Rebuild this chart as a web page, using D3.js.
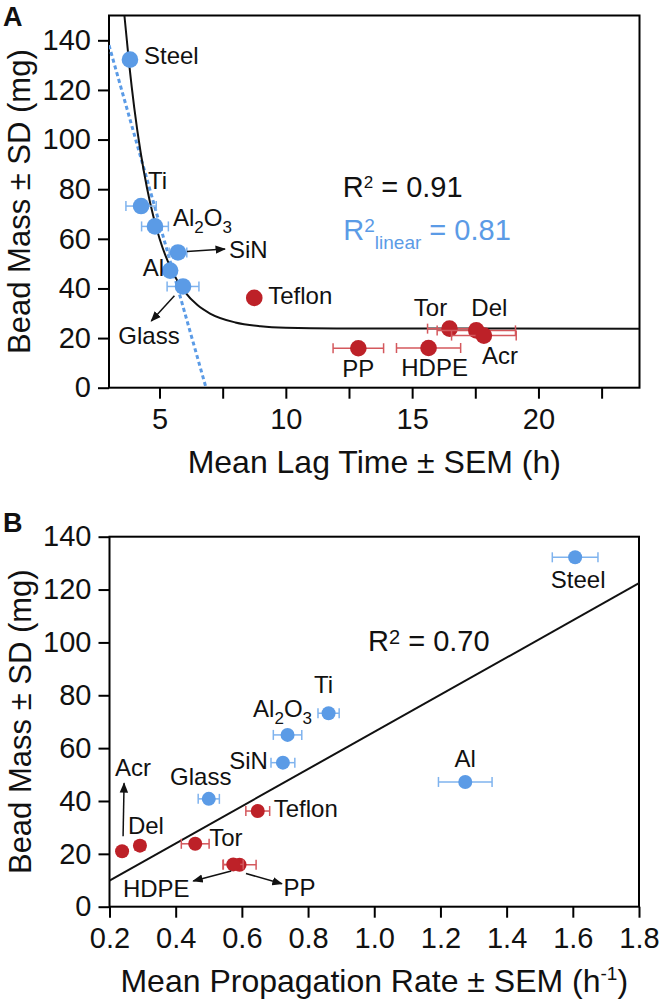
<!DOCTYPE html>
<html lang="en">
<head>
<meta charset="UTF-8">
<title>Bead mass vs lag time and propagation rate</title>
<script src="https://cdn.jsdelivr.net/npm/d3@7"></script>
<style>
    body { margin: 0; background: #fff; }
    svg text { font-family: "Liberation Sans", Arial, Helvetica, sans-serif; fill: #111; }
    .axis path { display: none; }
    .axis line { stroke: #000; stroke-width: 2; }
    .axis text { font-size: 29px; fill: #111; }
    .frame { fill: none; stroke: #000; stroke-width: 2; }
    .title { font-size: 32px; }
    .ytitle { font-size: 31px; }
    .lbl { font-size: 24px; }
    .arrow { stroke: #111; stroke-width: 1.5; fill: none; }
</style>
</head>
<body>
<svg id="fig" width="664" height="1002"></svg>
<script>
// ---- data ----
var materials = ["Steel", "Ti", "Al2O3", "SiN", "Al", "Glass", "Teflon", "PP", "HDPE", "Tor", "Del", "Acr"];
var group     = ["hard", "hard", "hard", "hard", "hard", "hard", "poly", "poly", "poly", "poly", "poly", "poly"];
var beadMass  = [132.2, 73.2, 65.0, 54.5, 47.2, 40.8, 36.2, 15.9, 16.0, 23.8, 23.1, 21.0];

// panel A: mean lag time (h) and SEM
var lagTime = [3.83, 4.27, 4.82, 5.73, 5.42, 5.93, 8.75, 12.87, 15.65, 16.48, 17.54, 17.84];
var lagSem  = [0.15, 0.60, 0.53, 0.35, 0.15, 0.63, 0.15, 1.00, 1.27, 0.87, 1.55, 1.28];

// panel B: mean propagation rate (1/h) and SEM
var propRate = [1.607, 0.862, 0.738, 0.724, 1.275, 0.500, 0.648, 0.593, 0.574, 0.459, 0.292, 0.238];
var propSem  = [0.069, 0.032, 0.043, 0.036, 0.081, 0.032, 0.036, 0.050, 0.030, 0.042, 0.015, 0.010];

// fitted curves as drawn in the figure
var expFitLag  = [3.61, 3.8, 4.0, 4.25, 4.5, 4.75, 5.0, 5.5, 6.0, 6.5, 7.0, 8.0, 9.0, 10, 12, 24];
var expFitMass = [150, 130.3, 112.8, 95.0, 80.7, 69.3, 60.1, 47.0, 38.6, 33.3, 29.9, 26.3, 24.8, 24.2, 23.9, 23.8];
var linFitLag  = [3.0, 6.84];
var linFitMass = [138, 0];
var rateFitX   = [0.2, 1.8];
var rateFitY   = [9.9, 122.4];

var lagTicks  = [5, 7.5, 10, 12.5, 15, 17.5, 20, 22.5];
var rateTicks = [0.2, 0.4, 0.6, 0.8, 1.0, 1.2, 1.4, 1.6, 1.8];
var massTicks = [0, 20, 40, 60, 80, 100, 120, 140];

var r2A = "0.91", r2Lin = "0.81", r2B = "0.70";

// ---- styling ----
var dotColor = {hard: "#5b9be6", poly: "#bd2128"};
var barColor = {hard: "#7fb3ee", poly: "#d4585d"};

var pts = materials.map(function (m, i) {
    return {name: m, grp: group[i], mass: beadMass[i], lag: lagTime[i], lagE: lagSem[i], rate: propRate[i], rateE: propSem[i]};
});

var svg = d3.select("#fig");

svg.append("defs").append("marker")
    .attr("id", "head")
    .attr("viewBox", "0 0 10 10")
    .attr("refX", 9).attr("refY", 5)
    .attr("markerWidth", 7).attr("markerHeight", 7)
    .attr("markerUnits", "strokeWidth")
    .attr("orient", "auto")
    .append("path").attr("d", "M0,1 L10,5 L0,9 z").attr("fill", "#111");

function labelText(sel, name) {
    if (name === "Al2O3") {
        sel.append("tspan").text("Al");
        sel.append("tspan").attr("dy", 7).style("font-size", "17px").text("2");
        sel.append("tspan").attr("dy", -7).text("O");
        sel.append("tspan").attr("dy", 7).style("font-size", "17px").text("3");
    } else {
        sel.text(name);
    }
}

function drawPanel(p) {
    var x = p.x, y = p.y, g = svg.append("g");

    g.append("g").attr("class", "axis")
        .attr("transform", "translate(0," + p.bottom + ")")
        .call(d3.axisBottom(x).tickValues(p.xTicks).tickSize(11).tickPadding(10).tickFormat(p.xFmt));
    g.append("g").attr("class", "axis")
        .attr("transform", "translate(" + p.left + ",0)")
        .call(d3.axisLeft(y).tickValues(massTicks).tickSize(11).tickPadding(7));

    g.append("rect").attr("class", "frame")
        .attr("x", p.left).attr("y", p.top)
        .attr("width", p.right - p.left).attr("height", p.bottom - p.top);

    var clip = "clip" + p.id;
    g.append("clipPath").attr("id", clip).append("rect")
        .attr("x", p.left).attr("y", p.top)
        .attr("width", p.right - p.left).attr("height", p.bottom - p.top);

    var plot = g.append("g").attr("clip-path", "url(#" + clip + ")");
    p.lines(plot);

    var pt = g.selectAll(".pt" + p.id).data(pts).enter().append("g");
    pt.append("line")
        .attr("x1", function (d) { return x(p.vx(d) - p.ve(d)); })
        .attr("x2", function (d) { return x(p.vx(d) + p.ve(d)); })
        .attr("y1", function (d) { return y(d.mass); })
        .attr("y2", function (d) { return y(d.mass); })
        .attr("stroke", function (d) { return barColor[d.grp]; }).attr("stroke-width", 1.5);
    [-1, 1].forEach(function (s) {
        pt.append("line")
            .attr("x1", function (d) { return x(p.vx(d) + s * p.ve(d)); })
            .attr("x2", function (d) { return x(p.vx(d) + s * p.ve(d)); })
            .attr("y1", function (d) { return y(d.mass) - 5; })
            .attr("y2", function (d) { return y(d.mass) + 5; })
            .attr("stroke", function (d) { return barColor[d.grp]; }).attr("stroke-width", 1.5);
    });
    pt.append("circle")
        .attr("cx", function (d) { return x(p.vx(d)); })
        .attr("cy", function (d) { return y(d.mass); })
        .attr("r", p.r)
        .attr("fill", function (d) { return dotColor[d.grp]; });

    // labels placed relative to their point
    pts.forEach(function (d) {
        var L = p.labels[d.name];
        var t = g.append("text").attr("class", "lbl")
            .attr("x", x(p.vx(d)) + L[0]).attr("y", y(d.mass) + L[1])
            .attr("text-anchor", L[2]);
        labelText(t, d.name);
        var a = p.arrows[d.name];
        if (a) {
            g.append("line").attr("class", "arrow")
                .attr("x1", x(p.vx(d)) + a[0]).attr("y1", y(d.mass) + a[1])
                .attr("x2", x(p.vx(d)) + a[2]).attr("y2", y(d.mass) + a[3])
                .attr("marker-end", "url(#head)");
        }
    });

    g.append("text").attr("class", "ytitle")
        .attr("transform", "translate(" + p.yTitleX + "," + (p.top + p.bottom) / 2 + ") rotate(-90)")
        .attr("text-anchor", "middle")
        .text("Bead Mass \u00b1 SD (mg)");

    var xt = g.append("text").attr("class", "title")
        .attr("x", (p.left + p.right) / 2).attr("y", p.bottom + 85)
        .attr("text-anchor", "middle");
    xt.append("tspan").text(p.xTitle);
    if (p.xTitleSup) {
        xt.append("tspan").attr("dy", -12).style("font-size", "19px").text(p.xTitleSup);
        xt.append("tspan").attr("dy", 12).text(")");
    }

    g.append("text").attr("x", 3).attr("y", p.top - (p.id === "A" ? -10 : 5))
        .style("font-size", "27px").style("font-weight", "bold").text(p.id);
    return g;
}

// ---- panel A ----
var xA = d3.scaleLinear().domain([3, 24]).range([109, 639.5]);
var yA = d3.scaleLinear().domain([0, 150]).range([387.7, 15.5]);

var gA = drawPanel({
    id: "A", x: xA, y: yA, left: 109, right: 639.5, top: 15.5, bottom: 387.7, r: 8.3,
    xTicks: lagTicks, xFmt: function (d) { return d % 5 === 0 ? d : ""; },
    vx: function (d) { return d.lag; }, ve: function (d) { return d.lagE; },
    yTitleX: 30, xTitle: "Mean Lag Time \u00b1 SEM (h)",
    lines: function (plot) {
        plot.append("path")
            .datum(linFitLag.map(function (v, i) { return [v, linFitMass[i]]; }))
            .attr("d", d3.line().x(function (d) { return xA(d[0]); }).y(function (d) { return yA(d[1]); }))
            .attr("fill", "none").attr("stroke", "#5b9be6").attr("stroke-width", 3).attr("stroke-dasharray", "4,3");
        plot.append("path")
            .datum(expFitLag.map(function (v, i) { return [v, expFitMass[i]]; }))
            .attr("d", d3.line().curve(d3.curveMonotoneX).x(function (d) { return xA(d[0]); }).y(function (d) { return yA(d[1]); }))
            .attr("fill", "none").attr("stroke", "#111").attr("stroke-width", 2);
    },
    labels: {
        Steel: [14, 4.5, "start"], Ti: [7, -17, "start"], Al2O3: [18, 0, "start"], SiN: [51, 6, "start"],
        Al: [-6, 5, "end"], Glass: [-34, 58, "middle"], Teflon: [14, 6, "start"], PP: [0, 29, "middle"],
        HDPE: [6, 28, "middle"], Tor: [-19, -13, "middle"], Del: [13, -14, "middle"], Acr: [16, 28, "middle"]
    },
    arrows: {SiN: [9, -1, 47, -3.4], Glass: [-8.6, 9.4, -31.7, 34.6]}
});

var rA = gA.append("text").attr("x", 342.7).attr("y", 197.3).style("font-size", "29px");
rA.append("tspan").text("R");
rA.append("tspan").attr("dy", -9).style("font-size", "17px").text("2");
rA.append("tspan").attr("dy", 9).text(" = " + r2A);

var rL = gA.append("text").attr("x", 343.3).attr("y", 240).style("font-size", "29px").style("fill", "#5b9be6");
rL.append("tspan").text("R");
rL.append("tspan").attr("dy", -8.5).style("font-size", "19px").text("2");
rL.append("tspan").attr("dy", 17.5).style("font-size", "19px").text("linear");
rL.append("tspan").attr("dy", -9).text(" = " + r2Lin);

// ---- panel B ----
var xB = d3.scaleLinear().domain([0.2, 1.8]).range([109.5, 639]);
var yB = d3.scaleLinear().domain([0, 140]).range([906.7, 536.7]);

var gB = drawPanel({
    id: "B", x: xB, y: yB, left: 109.5, right: 639, top: 536.7, bottom: 906.7, r: 7,
    xTicks: rateTicks, xFmt: d3.format(".1f"),
    vx: function (d) { return d.rate; }, ve: function (d) { return d.rateE; },
    yTitleX: 31, xTitle: "Mean Propagation Rate \u00b1 SEM (h", xTitleSup: "-1",
    lines: function (plot) {
        plot.append("path")
            .datum(rateFitX.map(function (v, i) { return [v, rateFitY[i]]; }))
            .attr("d", d3.line().x(function (d) { return xB(d[0]); }).y(function (d) { return yB(d[1]); }))
            .attr("fill", "none").attr("stroke", "#111").attr("stroke-width", 2);
    },
    labels: {
        Steel: [3, 31, "middle"], Ti: [-5, -20, "middle"], Al2O3: [-5, -18, "middle"], SiN: [-15, 6, "end"],
        Al: [0, -15, "middle"], Glass: [-8, -14, "middle"], Teflon: [16, 6, "start"], PP: [44, 31.5, "start"],
        HDPE: [-77, 33, "middle"], Tor: [14, 2, "start"], Del: [6, -12, "middle"], Acr: [11, -75, "middle"]
    },
    arrows: {Acr: [1, -15, 2, -68], HDPE: [-2, 6.5, -40, 16.5], PP: [6.4, 8.8, 42.3, 19.1]}
});

var rB = gB.append("text").attr("x", 368).attr("y", 650.7).style("font-size", "29px");
rB.append("tspan").text("R");
rB.append("tspan").attr("dy", -7).style("font-size", "20px").text("2");
rB.append("tspan").attr("dy", 7).text(" = " + r2B);
</script>
</body>
</html>
